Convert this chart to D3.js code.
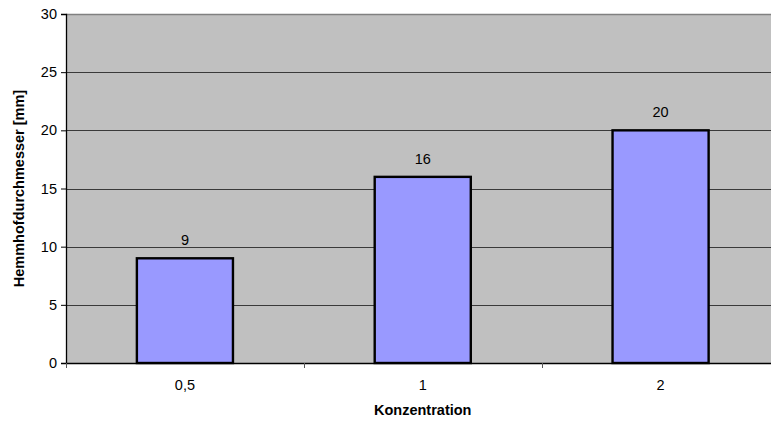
<!DOCTYPE html>
<html>
<head>
<meta charset="utf-8">
<script src="https://cdn.jsdelivr.net/npm/d3@7"></script>
<style>
  html, body { margin: 0; padding: 0; background: #ffffff; overflow: hidden; }
  svg { display: block; font-family: "Liberation Sans", Arial, sans-serif; }
</style>
</head>
<body>
<svg id="chart" width="771" height="423"></svg>
<script>
// Inhibition zone diameter per concentration
const categories = ["0,5", "1", "2"];
const values = [9, 16, 20];
const yTicks = [0, 5, 10, 15, 20, 25, 30];

const svg = d3.select("#chart");
const margin = { left: 66, top: 14, right: 779.5, bottom: 363 };
const fontSize = 14.5;

const x = d3.scaleBand()
  .domain(categories)
  .range([margin.left, margin.right])
  .paddingInner(0.596)
  .paddingOuter(0.298);

const xBounds = d3.scaleLinear()
  .domain([0, categories.length])
  .range([margin.left, margin.right]);

const y = d3.scaleLinear()
  .domain([0, 30])
  .range([margin.bottom, margin.top]);

// plot background
svg.append("rect")
  .attr("x", margin.left)
  .attr("y", margin.top)
  .attr("width", margin.right - margin.left)
  .attr("height", margin.bottom - margin.top)
  .attr("fill", "#c0c0c0");

// horizontal gridlines
svg.append("g")
  .selectAll("line")
  .data(yTicks.filter(d => d > 0 && d < 30))
  .join("line")
  .attr("x1", margin.left)
  .attr("x2", margin.right)
  .attr("y1", d => Math.round(y(d)) + 0.5)
  .attr("y2", d => Math.round(y(d)) + 0.5)
  .attr("stroke", "#3a3a3a")
  .attr("stroke-width", 1);

// top frame edge
svg.append("line")
  .attr("x1", margin.left)
  .attr("x2", margin.right)
  .attr("y1", y(30) + 0.5)
  .attr("y2", y(30) + 0.5)
  .attr("stroke", "#808080")
  .attr("stroke-width", 1.6);

// bars
svg.append("g")
  .selectAll("rect")
  .data(values)
  .join("rect")
  .attr("x", (d, i) => x(categories[i]))
  .attr("y", d => y(d))
  .attr("width", x.bandwidth())
  .attr("height", d => y(0) - y(d))
  .attr("fill", "#9999ff")
  .attr("stroke", "#000000")
  .attr("stroke-width", 2.4);

// value labels
svg.append("g")
  .selectAll("text")
  .data(values)
  .join("text")
  .attr("x", (d, i) => x(categories[i]) + x.bandwidth() / 2)
  .attr("y", d => y(d) - 13)
  .attr("text-anchor", "middle")
  .attr("font-size", fontSize)
  .attr("fill", "#000")
  .text(d => d);

// y axis
const yAxis = d3.axisLeft(y)
  .tickValues(yTicks)
  .tickSize(5)
  .tickPadding(4)
  .tickFormat(d3.format("d"));
const gy = svg.append("g")
  .attr("transform", `translate(${margin.left},0)`)
  .call(yAxis);
gy.select(".domain").attr("stroke", "#000").attr("stroke-width", 1.3);
gy.selectAll(".tick line").attr("stroke", "#000");
gy.selectAll(".tick text")
  .attr("font-size", fontSize)
  .attr("font-family", "Liberation Sans, Arial, sans-serif")
  .attr("fill", "#000");

// x axis line
svg.append("line")
  .attr("x1", margin.left)
  .attr("x2", margin.right)
  .attr("y1", y(0) + 0.5)
  .attr("y2", y(0) + 0.5)
  .attr("stroke", "#000")
  .attr("stroke-width", 1.3);

// category boundary ticks
svg.append("g")
  .selectAll("line")
  .data(d3.range(categories.length + 1))
  .join("line")
  .attr("x1", d => Math.round(xBounds(d)) + 0.5)
  .attr("x2", d => Math.round(xBounds(d)) + 0.5)
  .attr("y1", y(0))
  .attr("y2", y(0) + 5)
  .attr("stroke", "#555");

// category labels
svg.append("g")
  .selectAll("text")
  .data(categories)
  .join("text")
  .attr("x", d => x(d) + x.bandwidth() / 2)
  .attr("y", y(0) + 27)
  .attr("text-anchor", "middle")
  .attr("font-size", fontSize)
  .attr("fill", "#000")
  .text(d => d);

// axis titles
svg.append("text")
  .attr("x", (margin.left + margin.right) / 2)
  .attr("y", 414.5)
  .attr("text-anchor", "middle")
  .attr("font-size", fontSize)
  .attr("font-weight", "bold")
  .text("Konzentration");

svg.append("text")
  .attr("transform", `translate(24,${(margin.top + margin.bottom) / 2}) rotate(-90)`)
  .attr("text-anchor", "middle")
  .attr("font-size", fontSize)
  .attr("font-weight", "bold")
  .text("Hemmhofdurchmesser [mm]");
</script>
</body>
</html>
